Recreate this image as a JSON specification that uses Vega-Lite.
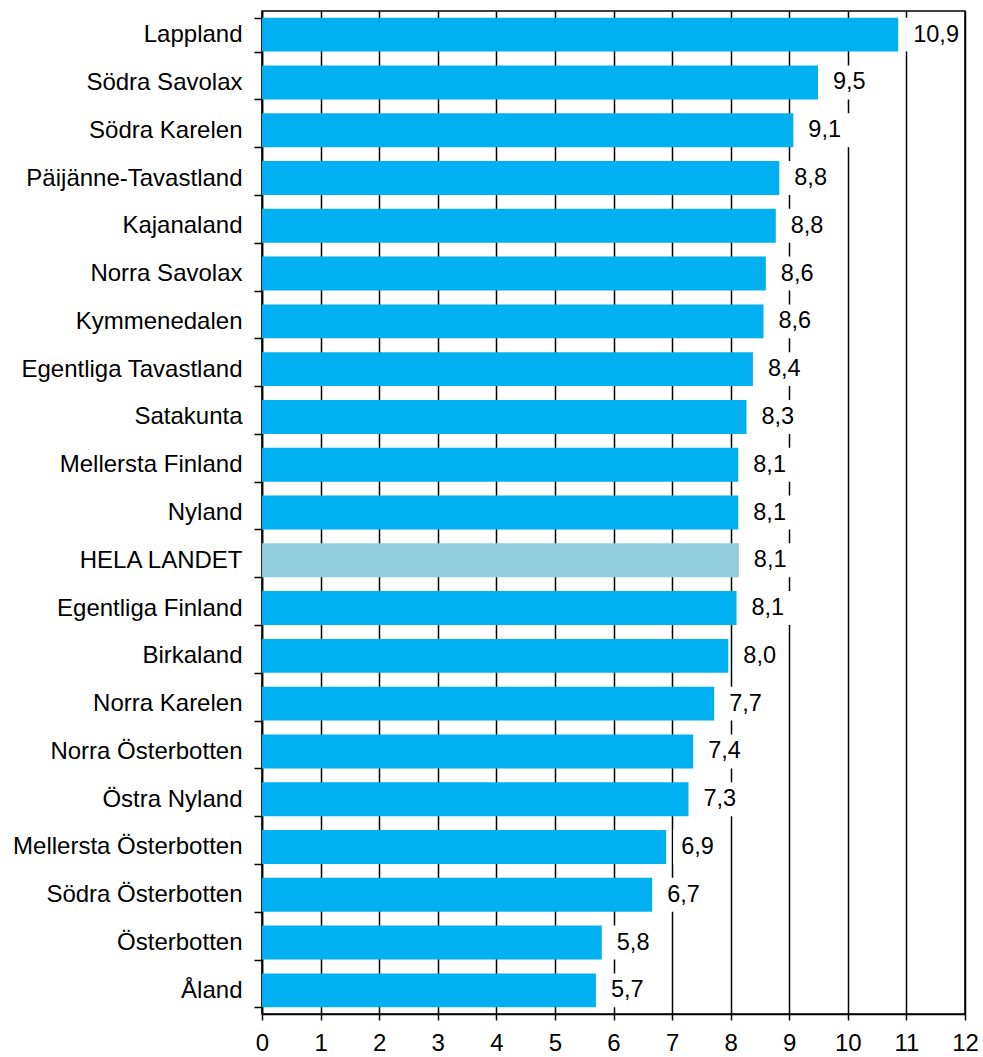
{
  "$schema": "https://vega.github.io/schema/vega-lite/v6.json",
  "autosize": {"type": "none"},
  "padding": {"left": 262, "top": 11, "right": 18, "bottom": 42},
  "width": 703,
  "height": 1003,
  "background": "white",
  "config": {
    "font": "Liberation Sans",
    "view": {"stroke": "black", "strokeWidth": 1.5},
    "locale": {"number": {"decimal": ",", "thousands": " ", "grouping": [3], "currency": ["", ""]}}
  },
  "data": {
    "values": [
      {"region": "Lappland", "value": 10.86, "typ": "region"},
      {"region": "Södra Savolax", "value": 9.49, "typ": "region"},
      {"region": "Södra Karelen", "value": 9.07, "typ": "region"},
      {"region": "Päijänne-Tavastland", "value": 8.83, "typ": "region"},
      {"region": "Kajanaland", "value": 8.77, "typ": "region"},
      {"region": "Norra Savolax", "value": 8.6, "typ": "region"},
      {"region": "Kymmenedalen", "value": 8.56, "typ": "region"},
      {"region": "Egentliga Tavastland", "value": 8.38, "typ": "region"},
      {"region": "Satakunta", "value": 8.27, "typ": "region"},
      {"region": "Mellersta Finland", "value": 8.13, "typ": "region"},
      {"region": "Nyland", "value": 8.13, "typ": "region"},
      {"region": "HELA LANDET", "value": 8.14, "typ": "total"},
      {"region": "Egentliga Finland", "value": 8.1, "typ": "region"},
      {"region": "Birkaland", "value": 7.96, "typ": "region"},
      {"region": "Norra Karelen", "value": 7.72, "typ": "region"},
      {"region": "Norra Österbotten", "value": 7.36, "typ": "region"},
      {"region": "Östra Nyland", "value": 7.28, "typ": "region"},
      {"region": "Mellersta Österbotten", "value": 6.9, "typ": "region"},
      {"region": "Södra Österbotten", "value": 6.66, "typ": "region"},
      {"region": "Österbotten", "value": 5.8, "typ": "region"},
      {"region": "Åland", "value": 5.7, "typ": "region"}
    ]
  },
  "encoding": {
    "y": {
      "field": "region",
      "type": "nominal",
      "sort": null,
      "title": null,
      "scale": {"paddingInner": 0.29, "paddingOuter": 0.14},
      "axis": {
        "tickBand": "extent",
        "tickSize": 8,
        "tickColor": "black",
        "tickWidth": 1.5,
        "domainColor": "black",
        "domainWidth": 1.5,
        "labelFontSize": 24,
        "labelColor": "black",
        "labelPadding": 12,
        "labelLimit": 400,
        "grid": false
      }
    }
  },
  "layer": [
    {
      "mark": {"type": "bar"},
      "encoding": {
        "x": {
          "field": "value",
          "type": "quantitative",
          "title": null,
          "scale": {"domain": [0, 12], "nice": false},
          "axis": {
            "values": [0, 1, 2, 3, 4, 5, 6, 7, 8, 9, 10, 11, 12],
            "format": "d",
            "grid": true,
            "gridColor": "black",
            "gridWidth": 1.5,
            "gridOpacity": 1,
            "tickSize": 6,
            "tickColor": "black",
            "tickWidth": 1.5,
            "domainColor": "black",
            "domainWidth": 1.5,
            "labelFontSize": 24,
            "labelColor": "black",
            "labelPadding": 11,
            "labelFlush": false
          }
        },
        "color": {
          "field": "typ",
          "type": "nominal",
          "scale": {"domain": ["region", "total"], "range": ["#00B0F0", "#92CDDC"]},
          "legend": null
        }
      }
    },
    {
      "mark": {"type": "bar", "color": "white", "xOffset": 7, "x2Offset": 57},
      "encoding": {
        "x": {"field": "value", "type": "quantitative"},
        "x2": {"field": "value"}
      }
    },
    {
      "mark": {"type": "text", "align": "left", "baseline": "middle", "dx": 15, "fontSize": 23.5, "color": "black"},
      "encoding": {
        "x": {"field": "value", "type": "quantitative"},
        "text": {"field": "value", "type": "quantitative", "format": ".1f"}
      }
    }
  ]
}
